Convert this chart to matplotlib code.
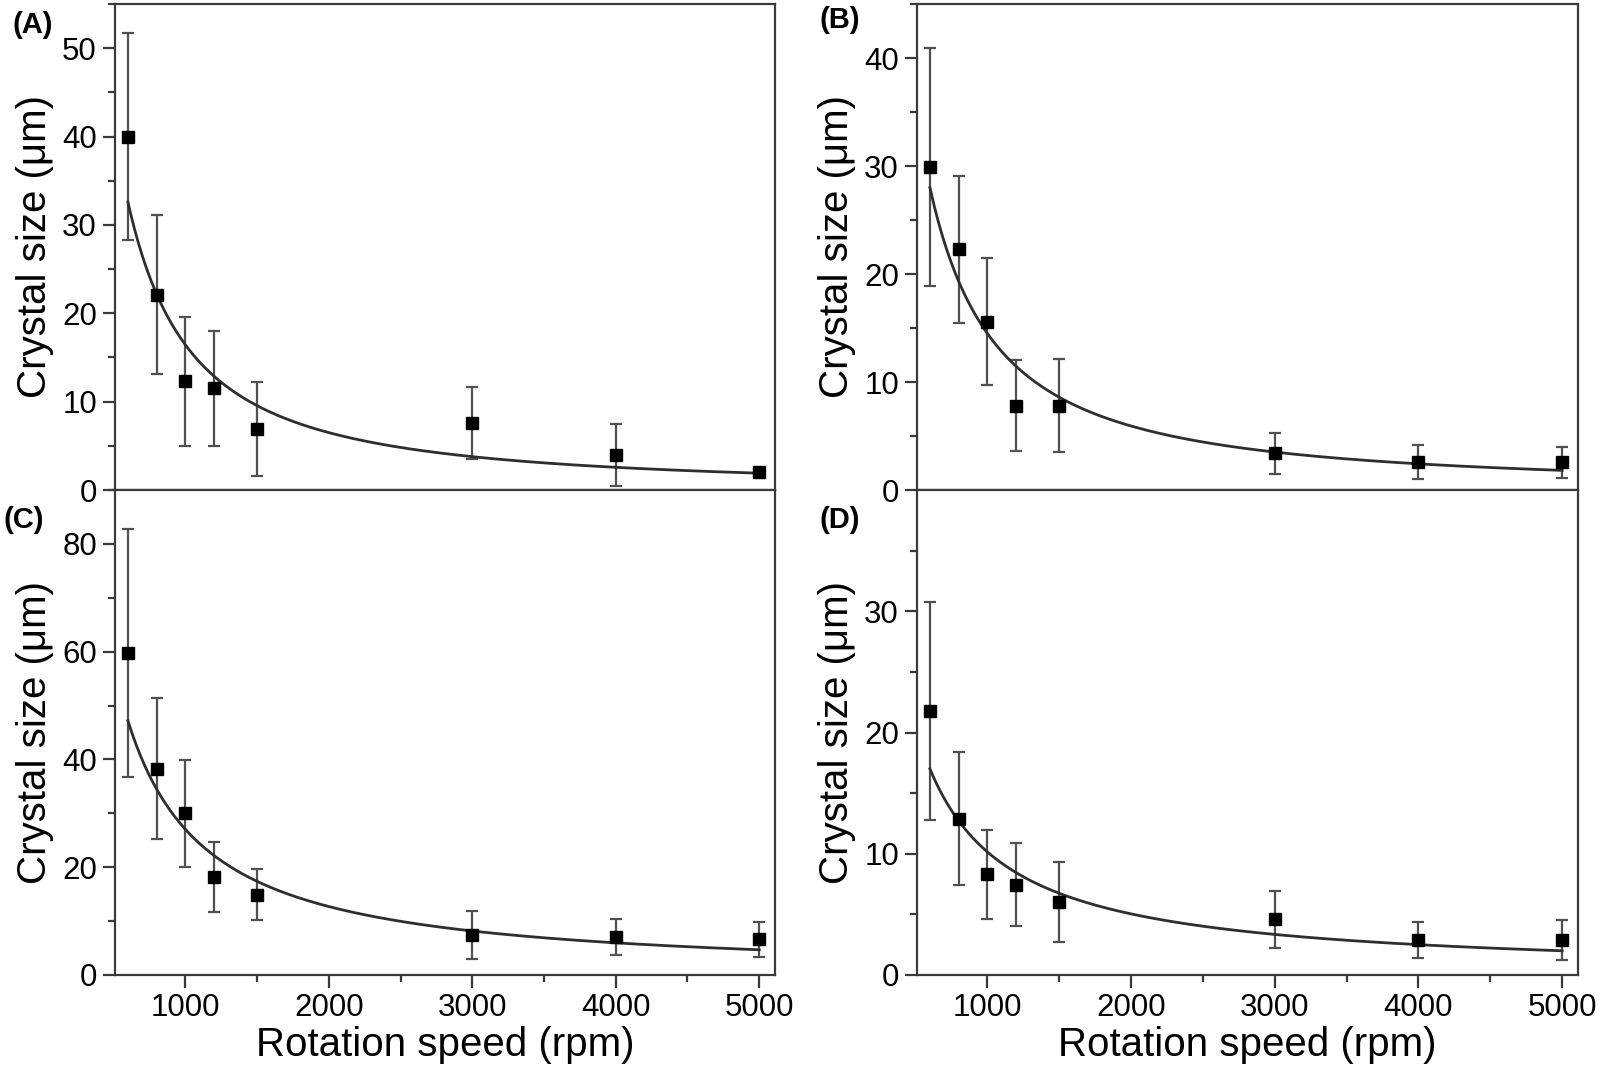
import numpy as np
import matplotlib
matplotlib.use("Agg")
from matplotlib import pyplot as plt
from matplotlib.ticker import MultipleLocator, FixedLocator

plt.rcParams['font.family'] = ['Liberation Sans', 'DejaVu Sans']

speed = [600, 800, 1000, 1200, 1500, 3000, 4000, 5000]

size_a = [40.0, 22.1, 12.3, 11.5, 6.9, 7.6, 4.0, 2.0]
err_a = [11.7, 9.0, 7.3, 6.5, 5.3, 4.1, 3.5, 0.5]
size_b = [29.9, 22.3, 15.6, 7.8, 7.8, 3.4, 2.6, 2.55]
err_b = [11.0, 6.8, 5.9, 4.2, 4.3, 1.9, 1.6, 1.45]
size_c = [59.7, 38.3, 30.0, 18.2, 14.9, 7.4, 7.1, 6.6]
err_c = [23.0, 13.1, 9.9, 6.5, 4.7, 4.5, 3.3, 3.3]
size_d = [21.8, 12.9, 8.3, 7.45, 6.0, 4.6, 2.9, 2.9]
err_d = [9.0, 5.5, 3.65, 3.4, 3.3, 2.35, 1.5, 1.65]

# power-law fit y = y600 * (x/600)^b
fit_y600 = [32.6, 28.0, 47.2, 17.0]
fit_exp = [-1.34, -1.29, -1.09, -1.01]

panel_labels = ["(A)", "(B)", "(C)", "(D)"]
ylims = [55, 45, 90, 40]
ymajor = [10, 10, 20, 10]

W, H = 1600, 1074
fig = plt.figure(figsize=(16, 10.74), dpi=100)

# axes boxes in pixels: left, top, right, bottom
boxes = [(115, 4, 775, 490), (917, 4, 1578, 490),
         (115, 490, 775, 975), (917, 490, 1578, 975)]
label_pos = [(33, 25), (840, 20), (24, 520), (840, 520)]

sizes = [size_a, size_b, size_c, size_d]
errs = [err_a, err_b, err_c, err_d]
spine_col = "#3a3a3a"

for i in range(4):
    l, t, r, b = boxes[i]
    ax = fig.add_axes([l / W, 1 - b / H, (r - l) / W, (b - t) / H])
    ax.errorbar(speed, sizes[i], yerr=errs[i], fmt="none", ecolor="#505050",
                elinewidth=1.6, capsize=4, capthick=1.6, zorder=2)
    xs = np.linspace(600, 5000, 300)
    ax.plot(xs, fit_y600[i] * (xs / 600.0) ** fit_exp[i], color="#2e2e2e", lw=2, zorder=3)
    ax.plot(speed, sizes[i], "s", color="black", ms=9, zorder=4)

    ax.set_xlim(510, 5110)
    ax.set_ylim(0, ylims[i])
    ax.xaxis.set_major_locator(FixedLocator([1000, 2000, 3000, 4000, 5000]))
    ax.xaxis.set_minor_locator(FixedLocator([1500, 2500, 3500, 4500]))
    if i == 3:
        ax.yaxis.set_major_locator(FixedLocator([0, 10, 20, 30]))
        ax.yaxis.set_minor_locator(FixedLocator([5, 15, 25, 35]))
    else:
        ax.yaxis.set_major_locator(MultipleLocator(ymajor[i]))
        ax.yaxis.set_minor_locator(MultipleLocator(ymajor[i] / 2))

    for s in ax.spines.values():
        s.set_linewidth(1.6)
        s.set_color(spine_col)
    ax.tick_params(which="both", direction="out", color=spine_col, width=1.6,
                   labelsize=22.5, top=False, right=False)
    ax.tick_params(which="major", length=9, pad=4)
    ax.tick_params(which="minor", length=5)
    if i < 2:
        ax.tick_params(labelbottom=False)
    else:
        ax.set_xlabel("Rotation speed (rpm)", fontsize=29, labelpad=2)
    ax.set_ylabel("Crystal size (\u03bcm)", fontsize=29, labelpad=6)

    fig.text(label_pos[i][0] / W, 1 - label_pos[i][1] / H, panel_labels[i],
             fontsize=21, fontweight="bold", ha="center", va="center")

fig.savefig("out.png", dpi=100)
